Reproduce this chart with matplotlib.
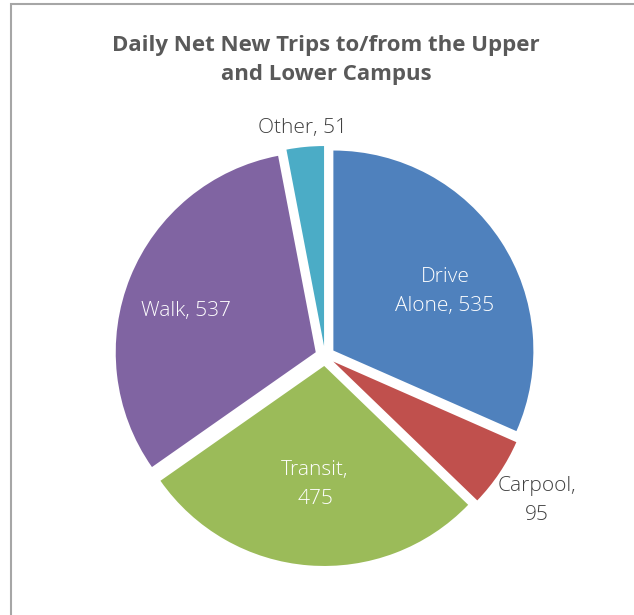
import matplotlib
matplotlib.use("Agg")
import matplotlib.pyplot as plt
from matplotlib.patches import Rectangle

categories = ["Drive\nAlone", "Carpool", "Transit", "Walk", "Other"]
values = [535, 95, 475, 537, 51]
colors = ["#4F81BD", "#C0504D", "#9BBB59", "#8064A2", "#4BACC6"]
title = "Daily Net New Trips to/from the Upper\nand Lower Campus"

W, H = 634, 615
fig = plt.figure(figsize=(W / 100, H / 100), dpi=100)
ax = fig.add_axes([0, 0, 1, 1])

# chart frame
fig.patches.append(Rectangle((11 / W, -0.05), 1.0, (H - 4) / H + 0.05, transform=fig.transFigure,
                             fill=False, edgecolor="#A6A6A6", linewidth=1.5))

cx, cy, r = 325, H - 356, 200
wedges, _ = ax.pie(values, colors=colors, startangle=90, counterclock=False,
                   radius=r, center=(cx, cy), explode=[10] * len(values),
                   wedgeprops=dict(linewidth=0), frame=True)
ax.set_xlim(0, W)
ax.set_ylim(0, H)
ax.set_aspect("equal")
ax.axis("off")

fp = dict(family=["Open Sans", "DejaVu Sans"], fontsize=15, fontweight="light")
label_pos = [(445, 292, "white"), (537, 500, "#404040"), (315, 484, "white"),
             (186, 311, "white"), (303, 128, "#404040")]
for (name, v, (x, y, c)) in zip(categories, values, label_pos):
    if name == "Carpool" or name == "Transit":
        txt = f"{name},\n{v}"
    else:
        txt = f"{name}, {v}"
    ax.text(x, H - y, txt, ha="center", va="center", color=c, linespacing=1.6, **fp)

fig.text(326 / W, 1 - 60 / H, title, ha="center", va="center", color="#595959",
         fontsize=16, fontweight="bold", family=["Open Sans", "DejaVu Sans"], linespacing=1.5)

fig.savefig("out.png", dpi=100)
